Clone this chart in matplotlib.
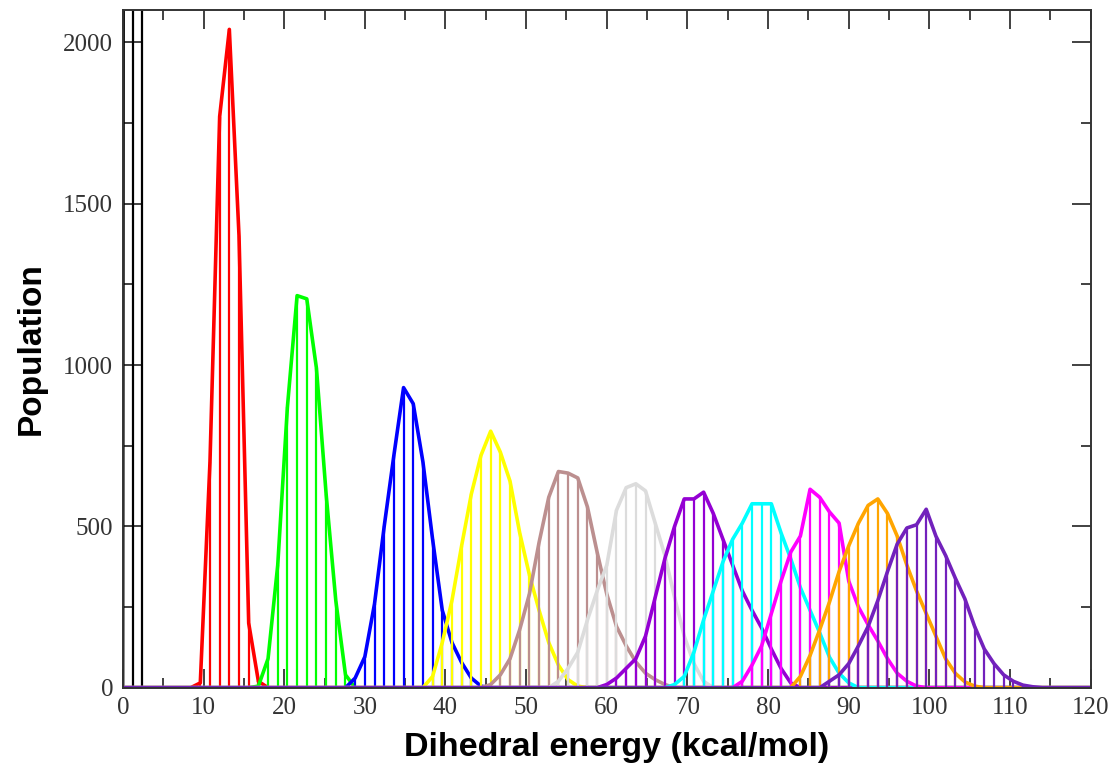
# Dihedral energy histograms (xmgrace style: outline + drop lines)

import numpy as np
import matplotlib.pyplot as plt

plt.rcParams['font.family'] = ['Liberation Serif', 'DejaVu Serif']

# bin width of every histogram (kcal/mol), bins run 0..120
bin_width = 1.2
n_bins = 101

# each set: index of first bin, population per bin, colour
black_start = 0
black_pop = [0, 40000, 30000]

red_start = 7
red_pop = [0, 15, 700, 1770, 2040, 1400, 200, 20, 0]

green_start = 14
green_pop = [5, 90, 380, 870, 1215, 1205, 990, 600, 270, 40, 0]

blue_start = 23
blue_pop = [0, 30, 96, 260, 500, 720, 930, 880, 700, 460, 240, 140, 78, 30, 5, 0]

yellow_start = 31
yellow_pop = [0, 35, 140, 270, 440, 600, 720, 795, 730, 640, 480, 350, 240, 140, 70, 25, 5, 0]

brown_start = 37
brown_pop = [0, 10, 40, 90, 180, 290, 450, 590, 670, 665, 650, 560, 420, 290, 190, 130, 80,
             45, 25, 10, 0]

grey_start = 44
grey_pop = [0, 20, 60, 110, 210, 300, 380, 550, 620, 632, 610, 510, 410, 280, 160, 75, 20, 0]

violet_start = 49
violet_pop = [0, 10, 30, 60, 90, 160, 280, 400, 500, 585, 585, 606, 540, 460, 380, 300, 240,
              185, 120, 60, 15, 0]

cyan_start = 56
cyan_pop = [0, 10, 35, 110, 210, 300, 390, 460, 510, 570, 570, 570, 480, 400, 310, 240, 170,
            95, 45, 15, 0]

magenta_start = 63
magenta_pop = [0, 20, 70, 130, 230, 330, 420, 470, 615, 590, 545, 510, 330, 250, 195, 145, 90,
               45, 20, 5, 0]

orange_start = 69
orange_pop = [0, 35, 100, 180, 265, 360, 440, 510, 565, 585, 540, 470, 380, 300, 230, 160, 90,
              45, 18, 5, 0]

indigo_start = 72
indigo_pop = [0, 20, 40, 75, 130, 190, 270, 360, 445, 495, 505, 553, 470, 410, 340, 275, 190,
              120, 75, 40, 20, 8, 3, 0]

sets = [
    (red_start, red_pop, '#ff0000'),
    (green_start, green_pop, '#00ff00'),
    (blue_start, blue_pop, '#0000ff'),
    (yellow_start, yellow_pop, '#ffff00'),
    (brown_start, brown_pop, '#bc8f8f'),
    (grey_start, grey_pop, '#dcdcdc'),
    (violet_start, violet_pop, '#9400d3'),
    (cyan_start, cyan_pop, '#00ffff'),
    (magenta_start, magenta_pop, '#ff00ff'),
    (orange_start, orange_pop, '#ffa500'),
    (indigo_start, indigo_pop, '#7221bc'),
]

fig = plt.figure(figsize=(11.17, 7.71), dpi=100)
ax = fig.add_axes([0.110, 0.108, 0.8665, 0.879])

# black set sits at the far left and runs off the top
bx = (black_start + np.arange(len(black_pop))) * bin_width
ax.vlines(bx, 0, black_pop, color='#000000', linewidth=1.6)
ax.plot(bx, black_pop, color='#000000', linewidth=2.2)

x_all = np.arange(n_bins) * bin_width
for start, pop, color in sets:
    # each set covers the whole range, zero outside its peak
    y = np.zeros(n_bins)
    y[start:start + len(pop)] = pop
    ax.vlines(x_all, 0, y, color=color, linewidth=1.6)
    ax.plot(x_all, y, color=color, linewidth=2.6, solid_joinstyle='round')

ax.set_xlim(0, 120)
ax.set_ylim(0, 2100)
ax.set_xticks(np.arange(0, 121, 10))
ax.set_xticks(np.arange(0, 121, 5), minor=True)
ax.set_yticks(np.arange(0, 2001, 500))
ax.set_yticks(np.arange(0, 2001, 250), minor=True)

ax.tick_params(which='both', direction='in', top=True, right=True, width=1.3, colors='#333333')
ax.tick_params(which='major', length=14, labelsize=18, pad=7)
ax.tick_params(which='minor', length=7)
for s in ax.spines.values():
    s.set_linewidth(1.4)
    s.set_color('#333333')
    s.set_zorder(5)

ax.set_xlabel('Dihedral energy (kcal/mol)', family='Liberation Sans', weight='bold',
              fontsize=24.5, labelpad=7)
ax.xaxis.set_label_coords(0.51, -0.065)
ax.set_ylabel('Population', family='Liberation Sans', weight='bold', fontsize=24, labelpad=12)

fig.savefig('out.png', dpi=100)
